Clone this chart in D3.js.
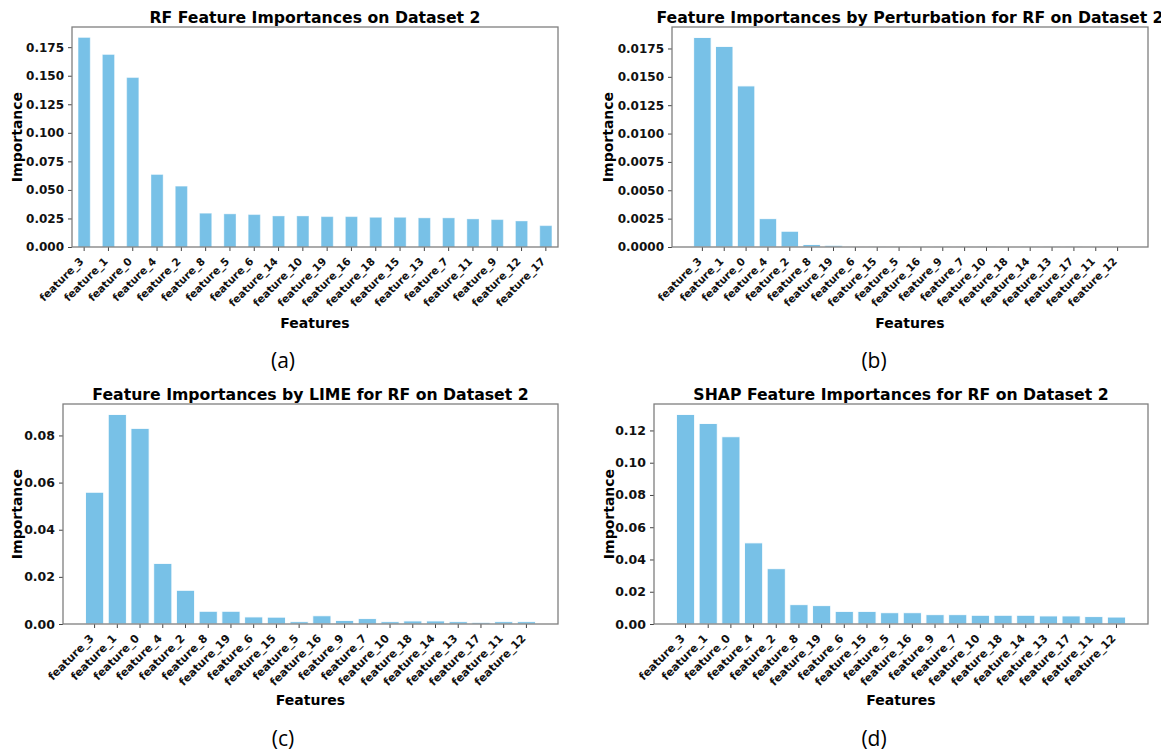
<!DOCTYPE html>
<html>
<head>
<meta charset="utf-8">
<script src="https://cdn.jsdelivr.net/npm/d3@7"></script>
<style>
  body { margin: 0; background: #fff; }
  svg { display: block; font-family: "DejaVu Sans", sans-serif; }
  .tick text { font-family: "DejaVu Sans", sans-serif; font-weight: bold; fill: #111; }
</style>
</head>
<body>
<script>
// Feature order per panel
var rfFeatures = ["feature_3", "feature_1", "feature_0", "feature_4", "feature_2", "feature_8", "feature_5", "feature_6", "feature_14", "feature_10",
  "feature_19", "feature_16", "feature_18", "feature_15", "feature_13", "feature_7", "feature_11", "feature_9", "feature_12", "feature_17"];
var otherFeatures = ["feature_3", "feature_1", "feature_0", "feature_4", "feature_2", "feature_8", "feature_19", "feature_6", "feature_15", "feature_5",
  "feature_16", "feature_9", "feature_7", "feature_10", "feature_18", "feature_14", "feature_13", "feature_17", "feature_11", "feature_12"];

// Importance values
var rfValues = [0.1835, 0.1686, 0.1484, 0.0635, 0.0533, 0.0296, 0.0290, 0.0284, 0.0272, 0.0272,
  0.0266, 0.0266, 0.0260, 0.0260, 0.0255, 0.0255, 0.0246, 0.0240, 0.0228, 0.0187];
var permValues = [0.01847, 0.01768, 0.0142, 0.0025, 0.00139, 0.00022, 0.00015, 0.00005, 0.00004, 0.00004,
  0.00004, 0.00004, 0.00001, 0.00004, 0.0, 0.00003, 0.00003, 0.00003, 0.0, 0.0];
var limeValues = [0.0559, 0.0889, 0.0830, 0.0257, 0.0143, 0.0054, 0.0054, 0.0030, 0.0029, 0.0010,
  0.0035, 0.0015, 0.0023, 0.0010, 0.0013, 0.0013, 0.0010, 0.0007, 0.0010, 0.0010];
var shapValues = [0.1299, 0.1243, 0.1161, 0.0503, 0.0343, 0.0120, 0.0114, 0.0078, 0.0078, 0.0070,
  0.0070, 0.0058, 0.0058, 0.0054, 0.0054, 0.0054, 0.0050, 0.0050, 0.0046, 0.0043];

// Tick labels for the y axes
var rfTicks = [0, 0.025, 0.05, 0.075, 0.1, 0.125, 0.15, 0.175];
var permTicks = [0, 0.0025, 0.005, 0.0075, 0.01, 0.0125, 0.015, 0.0175];
var limeTicks = [0, 0.02, 0.04, 0.06, 0.08];
var shapTicks = [0, 0.02, 0.04, 0.06, 0.08, 0.1, 0.12];

var barColor = "#78c1e7";

var svg = d3.select("body")
  .append("svg")
  .attr("width", 1161)
  .attr("height", 753);

svg.append("rect").attr("width", 1161).attr("height", 753).attr("fill", "#fff");

var panels = [
  { title: "RF Feature Importances on Dataset 2", names: rfFeatures, values: rfValues, ticks: rfTicks, fmt: ".3f",
    box: [72, 27, 558, 247], pandas: true, ylabX: 17, yFont: 12, xFont: 10.6, caption: "(a)", capX: 283, capY: 368 },
  { title: "Feature Importances by Perturbation for RF on Dataset 2", names: otherFeatures, values: permValues, ticks: permTicks, fmt: ".4f",
    box: [672, 27, 1148, 247], pandas: false, ylabX: 608, yFont: 12, xFont: 10.6, caption: "(b)", capX: 874, capY: 368 },
  { title: "Feature Importances by LIME for RF on Dataset 2", names: otherFeatures, values: limeValues, ticks: limeTicks, fmt: ".2f",
    box: [63, 404, 558, 624], pandas: false, ylabX: 17, yFont: 12.5, xFont: 11.1, caption: "(c)", capX: 283, capY: 746 },
  { title: "SHAP Feature Importances for RF on Dataset 2", names: otherFeatures, values: shapValues, ticks: shapTicks, fmt: ".2f",
    box: [654, 404, 1148, 624], pandas: false, ylabX: 609, yFont: 12.5, xFont: 11.1, caption: "(d)", capX: 874, capY: 746 }
];

panels.forEach(function(p) {
  var x0 = p.box[0], y0 = p.box[1], x1 = p.box[2], y1 = p.box[3];
  var w = x1 - x0, h = y1 - y0;

  var g = svg.append("g").attr("transform", `translate(${x0}, ${y0})`);

  // pandas bars: width 0.5, xlim +-0.5 ; pyplot bars: width 0.8 with 5% margins
  var xScale = d3.scaleBand()
    .domain(p.names)
    .range([0, w]);
  if (p.pandas) xScale.paddingInner(0.5).paddingOuter(0.25);
  else xScale.paddingInner(0.2).paddingOuter(0.99);

  var yScale = d3.scaleLinear()
    .domain([0, d3.max(p.values) * 1.05])
    .range([h, 0]);

  var data = p.names.map((n, i) => ({ name: n, value: p.values[i] }));

  g.selectAll(".bar")
    .data(data)
    .enter()
    .append("rect")
    .classed("bar", true)
    .attr("x", d => xScale(d.name))
    .attr("y", d => yScale(d.value))
    .attr("width", xScale.bandwidth())
    .attr("height", d => h - yScale(d.value))
    .attr("fill", barColor)
    .attr("stroke", "#fff")
    .attr("stroke-opacity", p.pandas ? 0.4 : 0.9)
    .attr("stroke-width", 1);

  // y axis
  var yAxis = d3.axisLeft(yScale)
    .tickValues(p.ticks)
    .tickFormat(d3.format(p.fmt))
    .tickSize(4)
    .tickPadding(4);
  var yg = g.append("g").call(yAxis);
  yg.select(".domain").remove();
  yg.selectAll(".tick line").attr("stroke", "#444");
  yg.selectAll(".tick text").style("font-size", p.yFont + "px");

  // x axis, labels turned 45 degrees
  var xAxis = d3.axisBottom(xScale).tickSize(4);
  var xg = g.append("g")
    .attr("transform", `translate(0, ${h})`)
    .call(xAxis);
  xg.select(".domain").remove();
  xg.selectAll(".tick line").attr("stroke", "#444");
  xg.selectAll(".tick text")
    .style("font-size", p.xFont + "px")
    .attr("text-anchor", "end")
    .attr("dy", null)
    .attr("y", 0)
    .attr("transform", "translate(0, 15) rotate(-45)");

  // frame
  g.append("rect")
    .attr("width", w)
    .attr("height", h)
    .attr("fill", "none")
    .attr("stroke", "#7f7f7f")
    .attr("stroke-width", 1.3);

  // title
  g.append("text")
    .attr("x", w / 2)
    .attr("y", -4)
    .attr("text-anchor", "middle")
    .style("font-size", "15.7px")
    .style("font-weight", "bold")
    .text(p.title);

  // axis labels
  g.append("text")
    .attr("x", w / 2)
    .attr("y", h + 81)
    .attr("text-anchor", "middle")
    .style("font-size", "14px")
    .style("font-weight", "bold")
    .text("Features");

  svg.append("text")
    .attr("transform", `translate(${p.ylabX + 5}, ${y0 + h / 2}) rotate(-90)`)
    .attr("text-anchor", "middle")
    .style("font-size", "14px")
    .style("font-weight", "bold")
    .text("Importance");

  // sub-caption
  svg.append("text")
    .attr("x", p.capX)
    .attr("y", p.capY)
    .attr("text-anchor", "middle")
    .style("font-family", "'Open Sans', sans-serif")
    .style("font-size", "21px")
    .text(p.caption);
});
</script>
</body>
</html>
